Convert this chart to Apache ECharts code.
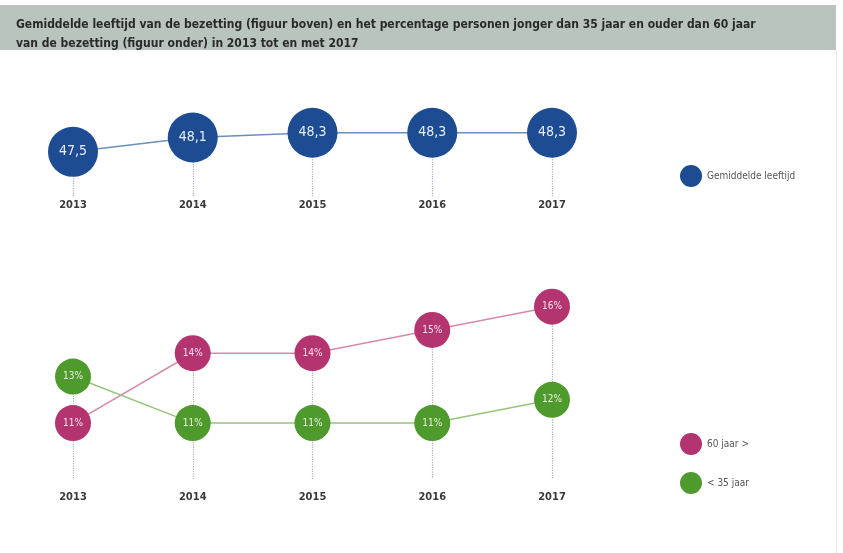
<!DOCTYPE html>
<html><head><meta charset="utf-8">
<script src="https://cdn.jsdelivr.net/npm/echarts@6/dist/echarts.min.js"></script>
<style>html,body{margin:0;padding:0;background:#fff}#c{width:843px;height:553px}</style>
</head><body><div id="c"></div>
<script>
const years = ['2013','2014','2015','2016','2017'];
const avgAge = [47.5, 48.1, 48.3, 48.3, 48.3];
const over60 = [11, 14, 14, 15, 16];
const under35 = [13, 11, 11, 11, 12];
const titleText = 'Gemiddelde leeftijd van de bezetting (figuur boven) en het percentage personen jonger dan 35 jaar en ouder dan 60 jaar\nvan de bezetting (figuur onder) in 2013 tot en met 2017';

const FONT = '"Liberation Sans Narrow","DejaVu Sans Condensed","Roboto",sans-serif';
const topMin = 45.6, topMax = 48.5, botMin = 8.6, botMax = 16.5;

const topLines = years.map((y,i)=>[{coord:[i, avgAge[i]]},{coord:[i, topMin]}]);
const botLines = years.map((y,i)=>[{coord:[i, Math.max(over60[i],under35[i])]},{coord:[i, botMin]}]);

const chart = echarts.init(document.getElementById('c'));
chart.setOption({
  backgroundColor:'#fff',
  animation:false,
  graphic:[
    {type:'rect', shape:{x:0,y:5,width:836,height:45}, style:{fill:'#b9c4bf'}, z:-1},
    {type:'line', shape:{x1:836.5,y1:50,x2:836.5,y2:553}, style:{stroke:'#e6e6e6',lineWidth:1}}
  ],
  title:{text:titleText, left:11, top:10, textStyle:{fontFamily:FONT, fontSize:12, fontWeight:'bold', color:'#2a2a2a', lineHeight:19}},
  legend:[
    {data:['Gemiddelde leeftijd'], left:675, top:160, icon:'circle', itemWidth:22, itemHeight:22, itemGap:10,
     textStyle:{fontFamily:FONT, fontSize:10, color:'#555'}},
    {data:['60 jaar >','< 35 jaar'], orient:'vertical', left:675, top:428, icon:'circle', itemWidth:22, itemHeight:22, itemGap:17,
     textStyle:{fontFamily:FONT, fontSize:10, color:'#555'}}
  ],
  grid:[
    {left:73, width:479, top:128, height:69},
    {left:73, width:479, top:295, height:184}
  ],
  xAxis:[
    {type:'category', gridIndex:0, data:years, boundaryGap:false, axisLine:{show:false}, axisTick:{show:false}, splitLine:{show:false},
     axisLabel:{margin:3, fontFamily:FONT, fontSize:11, fontWeight:'bold', color:'#3a3a3a'}},
    {type:'category', gridIndex:1, data:years, boundaryGap:false, axisLine:{show:false}, axisTick:{show:false}, splitLine:{show:false},
     axisLabel:{margin:13, fontFamily:FONT, fontSize:11, fontWeight:'bold', color:'#3a3a3a'}}
  ],
  yAxis:[
    {type:'value', gridIndex:0, min:topMin, max:topMax, show:false},
    {type:'value', gridIndex:1, min:botMin, max:botMax, show:false}
  ],
  series:[
    {name:'dots0', type:'line', xAxisIndex:0, yAxisIndex:0, data:avgAge, showSymbol:false, lineStyle:{opacity:0}, z:0, silent:true,
     markLine:{z:0, silent:true, symbol:['none','none'], label:{show:false}, lineStyle:{type:'dotted', color:'#9fb3cf', width:1.2}, data:topLines}},
    {name:'dots1', type:'line', xAxisIndex:1, yAxisIndex:1, data:over60, showSymbol:false, lineStyle:{opacity:0}, z:0, silent:true,
     markLine:{z:0, silent:true, symbol:['none','none'], label:{show:false}, lineStyle:{type:'dotted', color:'#b0b0b0', width:1.2}, data:botLines}},
    {name:'Gemiddelde leeftijd', type:'line', xAxisIndex:0, yAxisIndex:0, data:avgAge, z:3,
     symbol:'circle', symbolSize:50, itemStyle:{color:'#1d4c93'}, lineStyle:{color:'#6a8fbd', width:1.5},
     label:{show:true, position:'inside', fontFamily:FONT, fontSize:14, color:'#e8eef7', formatter:p=>String(p.value.toFixed(1)).replace('.',',')}},
    {name:'60 jaar >', type:'line', xAxisIndex:1, yAxisIndex:1, data:over60, z:3,
     symbol:'circle', symbolSize:36, itemStyle:{color:'#b3346f'}, lineStyle:{color:'#d589ab', width:1.5},
     label:{show:true, position:'inside', fontFamily:FONT, fontSize:10, color:'#f6e3ec', formatter:p=>p.value+'%'}},
    {name:'< 35 jaar', type:'line', xAxisIndex:1, yAxisIndex:1, data:under35, z:3,
     symbol:'circle', symbolSize:36, itemStyle:{color:'#4f9a2c'}, lineStyle:{color:'#97c47a', width:1.5},
     label:{show:true, position:'inside', fontFamily:FONT, fontSize:10, color:'#e6f2dc', formatter:p=>p.value+'%'}}
  ]
});
</script></body></html>
